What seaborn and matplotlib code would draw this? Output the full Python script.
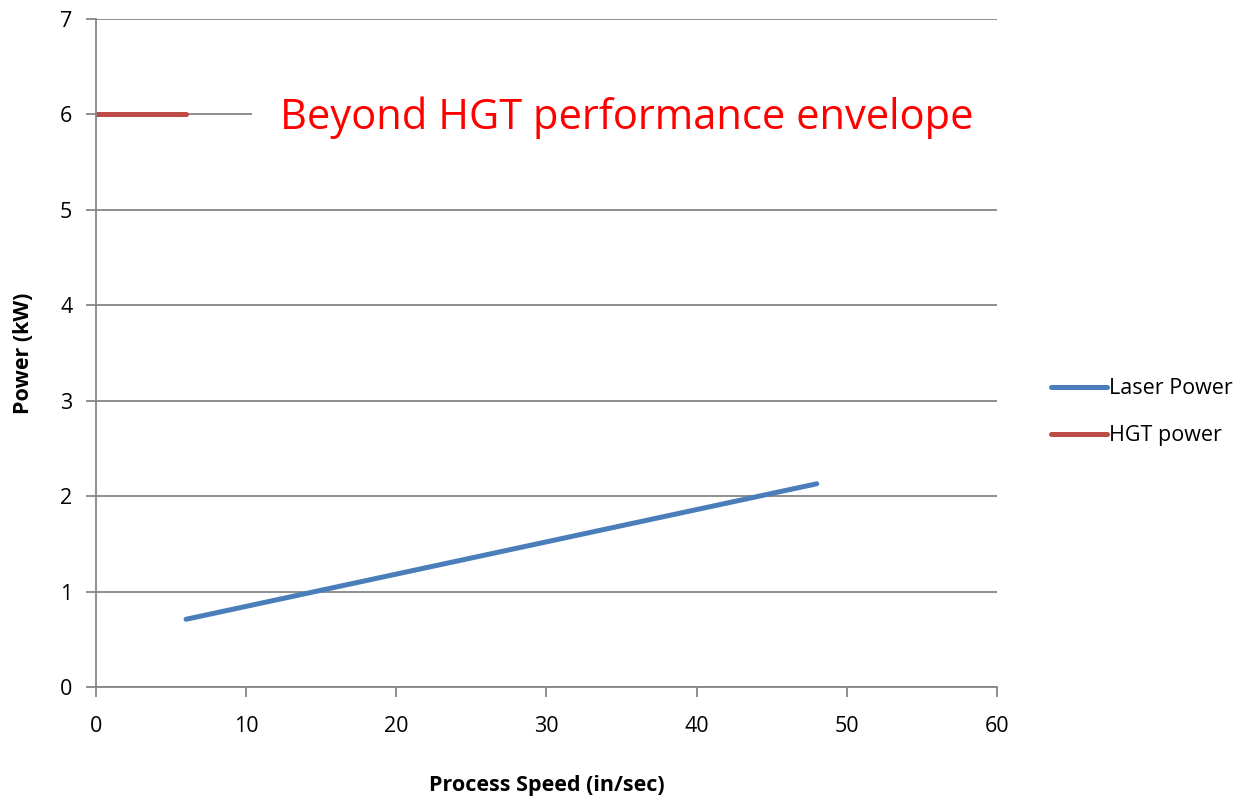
import matplotlib
matplotlib.use("Agg")
import matplotlib.pyplot as plt
import pandas as pd
import seaborn as sns

# Values
laser_speed = [6, 48]
laser_power = [0.71, 2.13]
hgt_speed = [0, 6]
hgt_power = [6, 6]
series_names = ["Laser Power", "HGT power"]
series_colors = ["#4A7EBB", "#BE4B48"]
note_text = "Beyond HGT performance envelope"

df = pd.concat([
    pd.DataFrame({"speed": laser_speed, "power": laser_power, "series": series_names[0]}),
    pd.DataFrame({"speed": hgt_speed, "power": hgt_power, "series": series_names[1]}),
], ignore_index=True)

sns.set_theme(style="white")
plt.rcParams["font.family"] = ["Open Sans", "DejaVu Sans"]
plt.rcParams["text.color"] = "black"

fig = plt.figure(figsize=(12.43, 7.96), dpi=100)
ax = fig.add_axes([0.0772, 0.1369, 0.7249, 0.8392])

sns.lineplot(data=df, x="speed", y="power", hue="series", hue_order=series_names,
             palette=series_colors, linewidth=3.6, ax=ax, legend=True,
             solid_capstyle="round")

ax.set_xlim(0, 60)
ax.set_ylim(0, 7)
ax.set_xticks(range(0, 61, 10))
ax.set_yticks(range(0, 8))
ax.grid(axis="y", color="#868686", linewidth=1.3)
ax.set_axisbelow(True)
for side in ["top", "right"]:
    ax.spines[side].set_visible(False)
for side in ["left", "bottom"]:
    ax.spines[side].set_color("#868686")
    ax.spines[side].set_linewidth(1.3)
ax.tick_params(axis="both", which="major", length=7, width=1.3, color="#868686",
               labelsize=15.5, labelcolor="black", pad=14, direction="out")
ax.tick_params(axis="y", pad=10)
ax.xaxis.set_ticks_position("bottom")
ax.yaxis.set_ticks_position("left")

ax.set_xlabel("Process Speed (in/sec)", fontsize=15.5, fontweight="bold",
              color="black", labelpad=27)
ax.set_ylabel("Power (kW)", fontsize=15.5, fontweight="bold", color="black",
              labelpad=19)

ax.text(12.25, 5.97, note_text, color="#FF0000", fontsize=30, va="center", ha="left",
        bbox=dict(facecolor="white", edgecolor="none", boxstyle="square,pad=0.68"),
        zorder=3)

handles, labels = ax.get_legend_handles_labels()
leg = ax.legend(handles, labels, loc="center left", bbox_to_anchor=(0.830, 0.482),
                bbox_transform=fig.transFigure, frameon=False, fontsize=15.5,
                handlelength=2.6, handletextpad=0.1, labelspacing=1.2)
for t in leg.get_texts():
    t.set_color("black")

fig.savefig("out.png", dpi=100)
